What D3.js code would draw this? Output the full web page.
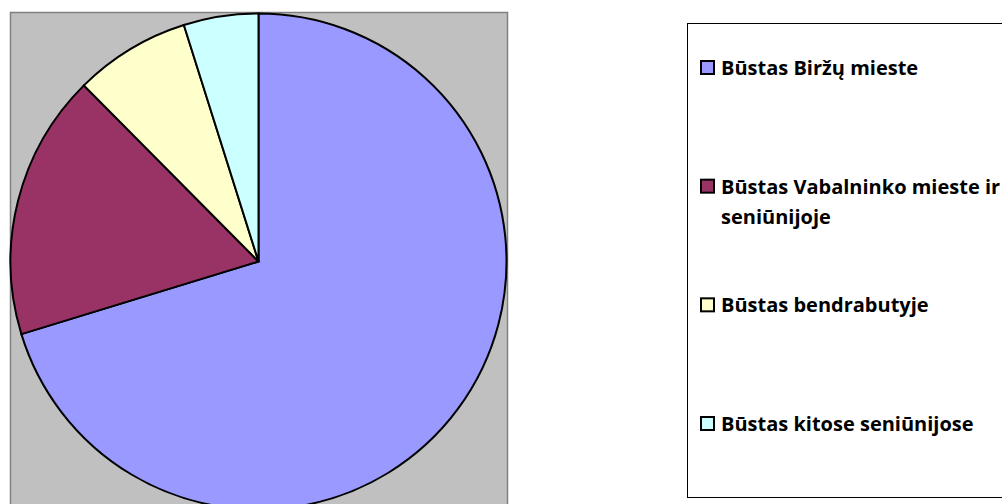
<!DOCTYPE html>
<html lang="lt">
<head>
<meta charset="UTF-8">
<title></title>
<style>
	* {padding:0; margin:0;}
	body {background:#fff;}
	svg {display:block;}
	.slice {stroke:#000; stroke-width:2px;}
	.legText {font-family:"Open Sans", sans-serif; font-weight:bold; font-size:20px; fill:#000;}
</style>
</head>
<body>
<svg id="chart" width="1002" height="504"></svg>
<script src="https://cdn.jsdelivr.net/npm/d3@7"></script>
<script>
// duomenys
var categories = ["Būstas Biržų mieste", "Būstas Vabalninko mieste ir seniūnijoje", "Būstas bendrabutyje", "Būstas kitose seniūnijose"];
var legendLines = [["Būstas Biržų mieste"], ["Būstas Vabalninko mieste ir", "seniūnijoje"], ["Būstas bendrabutyje"], ["Būstas kitose seniūnijose"]];
var values = [130, 32, 14, 9];
var colors = ["#9999ff", "#993366", "#ffffcc", "#ccffff"];

var svg = d3.select("#chart");

// pilkas braižymo plotas
svg.append("rect")
	.attr("x", 10.5).attr("y", 12.5)
	.attr("width", 497).attr("height", 500)
	.attr("fill", "#c0c0c0")
	.attr("stroke", "#808080")
	.attr("stroke-width", 1.5);

var cx = 258.5, cy = 261.5, r = 248;

var pie = d3.pie().sort(null).value(function(d){ return d; });
var arc = d3.arc().innerRadius(0).outerRadius(r);
var color = d3.scaleOrdinal().domain(categories).range(colors);

svg.append("g")
	.attr("transform", "translate(" + cx + "," + cy + ")")
	.selectAll("path")
	.data(pie(values))
	.enter()
	.append("path")
	.attr("class", "slice")
	.attr("d", arc)
	.attr("fill", function(d, i){ return color(categories[i]); });

// legenda
svg.append("rect")
	.attr("x", 687.5).attr("y", 23.5)
	.attr("width", 330).attr("height", 474)
	.attr("fill", "#fff")
	.attr("stroke", "#000")
	.attr("stroke-width", 1);

var rowY = d3.scalePoint().domain(categories).range([75, 431]);

var leg = svg.append("g").selectAll("g")
	.data(categories)
	.enter()
	.append("g")
	.attr("transform", function(d){ return "translate(0," + rowY(d) + ")"; });

leg.append("rect")
	.attr("x", 701).attr("y", -14)
	.attr("width", 13).attr("height", 13)
	.attr("fill", function(d){ return color(d); })
	.attr("stroke", "#000")
	.attr("stroke-width", 2);

leg.append("text")
	.attr("class", "legText")
	.attr("x", 721)
	.attr("y", 0)
	.selectAll("tspan")
	.data(function(d, i){ return legendLines[i]; })
	.enter()
	.append("tspan")
	.attr("x", 721)
	.attr("dy", function(d, i){ return i === 0 ? 0 : 30; })
	.text(function(d){ return d; });
</script>
</body>
</html>
